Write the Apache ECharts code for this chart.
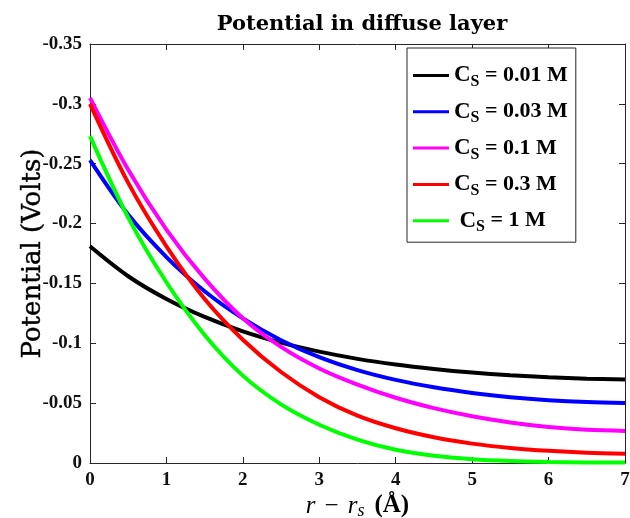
<!DOCTYPE html>
<html>
<head>
<meta charset="utf-8">
<script src="https://cdn.jsdelivr.net/npm/echarts@6/dist/echarts.min.js"></script>
<style>
  html, body { margin: 0; padding: 0; background: #fff; }
  #chart { width: 630px; height: 518px; }
</style>
</head>
<body>
<div id="chart"></div>
<script>
// Distance from the surface, r - r_s (Å)
const distance = [0, 0.5, 1, 1.5, 2, 2.5, 3, 3.5, 4, 4.5, 5, 5.5, 6, 6.5, 7];

// Concentrations shown in the legend
const concentrations = ['0.01 M', '0.03 M', '0.1 M', '0.3 M', '1 M'];

// Potential (V) for each bulk concentration
const pot001 = [-0.181, -0.156, -0.137, -0.122, -0.110, -0.1005, -0.093, -0.087, -0.0823, -0.0786, -0.0756, -0.0733, -0.0716, -0.0704, -0.0697];
const pot003 = [-0.253, -0.2075, -0.172, -0.1435, -0.1208, -0.1026, -0.0884, -0.0776, -0.0694, -0.0632, -0.0585, -0.055, -0.0525, -0.0509, -0.0501];
const pot01  = [-0.305, -0.245, -0.195, -0.154, -0.121, -0.097, -0.079, -0.0655, -0.0545, -0.0458, -0.039, -0.0338, -0.030, -0.0277, -0.0268];
const pot03  = [-0.300, -0.234, -0.181, -0.137, -0.103, -0.076, -0.055, -0.0395, -0.029, -0.0215, -0.0162, -0.0126, -0.0102, -0.0086, -0.0078];
const pot1   = [-0.273, -0.205, -0.151, -0.107, -0.073, -0.049, -0.032, -0.0195, -0.011, -0.006, -0.0032, -0.0017, -0.0009, -0.0005, -0.0004];

// Axis ranges and tick spacing
const yTicks = { min: -0.35, max: 0, step: 0.05 };
const xTicks = { min: 0, max: 7, step: 1 };

const seriesValues = [pot001, pot003, pot01, pot03, pot1];
const lineColors = ['#000000', '#0000ff', '#ff00ff', '#ff0000', '#00ff00'];

const serif = 'Liberation Serif';
const wideSerif = 'DejaVu Serif';
const axisColor = '#262626';

const chart = echarts.init(document.getElementById('chart'), null, { renderer: 'canvas' });

const series = seriesValues.map((vals, i) => ({
  name: concentrations[i],
  type: 'line',
  data: distance.map((x, k) => [x, vals[k]]),
  smooth: 0.33,
  showSymbol: false,
  symbol: 'none',
  lineStyle: { color: lineColors[i], width: 4 },
  itemStyle: { color: lineColors[i] },
  xAxisIndex: 0,
  yAxisIndex: 0,
  z: 3
}));

const tickLabelStyle = { fontFamily: serif, fontWeight: 'bold', fontSize: 19, color: '#111' };

chart.setOption({
  animation: false,
  backgroundColor: '#ffffff',
  title: {
    text: 'Potential in diffuse layer',
    left: 357,
    textAlign: 'center',
    top: 9,
    textStyle: { fontFamily: wideSerif, fontWeight: 'bold', fontSize: 21, color: '#000' }
  },
  grid: { left: 90, right: 5, top: 44, bottom: 55, outerBoundsMode: 'none' },
  legend: {
    orient: 'vertical',
    left: 407,
    top: 48,
    padding: [16, 8, 7, 6],
    itemGap: 10.3,
    itemWidth: 36,
    itemHeight: 3,
    icon: 'rect',
    borderColor: axisColor,
    borderWidth: 1,
    backgroundColor: '#fff',
    data: concentrations,
    formatter: name => (name === '1 M' ? '{t| }' : '') + '{c|C}{s|S}{t| = ' + name + '}',
    textStyle: {
      rich: {
        c: { fontFamily: serif, fontWeight: 'bold', fontSize: 23, color: '#000' },
        s: { fontFamily: serif, fontWeight: 'bold', fontSize: 16, color: '#000', padding: [13, 0, 0, 0] },
        t: { fontFamily: serif, fontWeight: 'bold', fontSize: 22, color: '#000' }
      }
    }
  },
  xAxis: [
    {
      type: 'value', min: xTicks.min, max: xTicks.max, interval: xTicks.step,
      position: 'bottom',
      name: '{i|r}{m|−}{i|r}{s|s}{b|(Å)}',
      nameLocation: 'middle',
      nameGap: 29,
      nameMoveOverlap: false,
      nameTextStyle: {
        rich: {
          i: { fontFamily: serif, fontStyle: 'italic', fontSize: 25, color: '#000' },
          m: { fontFamily: serif, fontSize: 25, color: '#000', padding: [0, 9, 0, 9] },
          s: { fontFamily: serif, fontStyle: 'italic', fontSize: 18, color: '#000', padding: [10, 0, 0, 0] },
          b: { fontFamily: serif, fontWeight: 'bold', fontSize: 25, color: '#000', padding: [0, 0, 0, 10] }
        }
      },
      axisLine: { onZero: false, lineStyle: { color: axisColor, width: 1 } },
      axisTick: { inside: true, length: 6, lineStyle: { color: axisColor } },
      axisLabel: Object.assign({ margin: 8 }, tickLabelStyle),
      splitLine: { show: false }
    },
    {
      type: 'value', min: xTicks.min, max: xTicks.max, interval: xTicks.step,
      position: 'top',
      axisLine: { onZero: false, lineStyle: { color: axisColor, width: 1 } },
      axisTick: { inside: true, length: 6, lineStyle: { color: axisColor } },
      axisLabel: { show: false },
      splitLine: { show: false }
    }
  ],
  yAxis: [
    {
      type: 'value', min: yTicks.min, max: yTicks.max, interval: yTicks.step,
      inverse: true,
      position: 'left',
      name: 'Potential (Volts)',
      nameLocation: 'middle',
      nameGap: 44,
      nameMoveOverlap: false,
      nameTextStyle: { fontFamily: wideSerif, fontSize: 26, color: '#000', textBorderColor: '#000', textBorderWidth: 0.4 },
      axisLine: { onZero: false, lineStyle: { color: axisColor, width: 1 } },
      axisTick: { inside: true, length: 6, lineStyle: { color: axisColor } },
      axisLabel: Object.assign({ margin: 8 }, tickLabelStyle),
      splitLine: { show: false }
    },
    {
      type: 'value', min: yTicks.min, max: yTicks.max, interval: yTicks.step,
      inverse: true,
      position: 'right',
      axisLine: { onZero: false, lineStyle: { color: axisColor, width: 1 } },
      axisTick: { inside: true, length: 6, lineStyle: { color: axisColor } },
      axisLabel: { show: false },
      splitLine: { show: false }
    }
  ],
  series: series
});
</script>
</body>
</html>
